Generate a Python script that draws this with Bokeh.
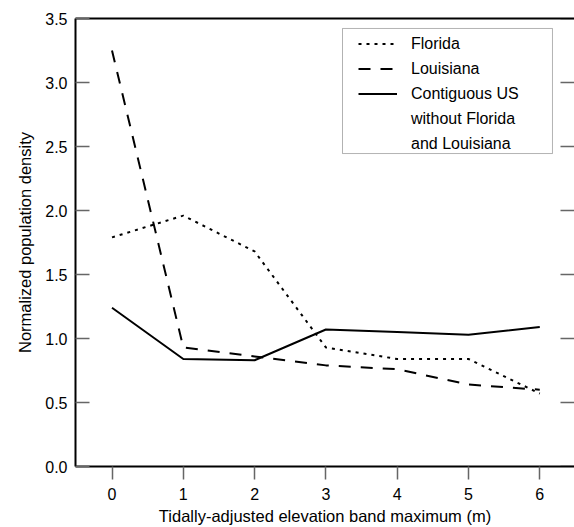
import math
from bokeh.plotting import figure
from bokeh.models import (Range1d, LinearAxis, FixedTicker, Legend, LegendItem,
                          BoxAnnotation, PrintfTickFormatter)
from bokeh.embed import file_html
from bokeh.resources import INLINE

# ---- data ----
elev_band = [0, 1, 2, 3, 4, 5, 6]
florida = [1.79, 1.96, 1.68, 0.93, 0.84, 0.84, 0.57]
louisiana = [3.25, 0.93, 0.86, 0.79, 0.76, 0.64, 0.60]
contiguous = [1.24, 0.84, 0.83, 1.07, 1.05, 1.03, 1.09]
x_ticks = [0, 1, 2, 3, 4, 5, 6]
y_ticks = [0.0, 0.5, 1.0, 1.5, 2.0, 2.5, 3.0, 3.5]
x_label = "Tidally-adjusted elevation band maximum (m)"
y_label = "Normalized population density"
legend_labels = ["Florida", "Louisiana", "Contiguous US", "without Florida", "and Louisiana"]

FONT = "Liberation Sans"
FS = "16px"
FS_LAB = "16.5px"
TICKC = "#666666"

x_start, x_end = -0.512, 6.487

p = figure(width=574, height=527,
           x_range=Range1d(x_start, x_end), y_range=Range1d(0, 3.5),
           output_backend="svg", toolbar_location=None,
           x_axis_location=None, y_axis_location=None,
           min_border_left=75, min_border_top=18, min_border_right=0,
           min_border_bottom=0)
p.outline_line_color = None
p.xgrid.visible = False
p.ygrid.visible = False
p.background_fill_color = "white"
p.border_fill_color = "white"

# bottom axis
xa = LinearAxis(ticker=FixedTicker(ticks=x_ticks), axis_label=x_label)
xa.axis_line_color = "black"
xa.axis_line_width = 2
xa.major_tick_in = 0
xa.major_tick_out = 13
xa.major_tick_line_color = TICKC
xa.major_tick_line_width = 1.5
xa.minor_tick_line_color = None
xa.major_label_standoff = 8
xa.major_label_text_font = FONT
xa.major_label_text_font_size = FS
xa.major_label_text_color = "black"
xa.axis_label_text_font = FONT
xa.axis_label_text_font_size = FS_LAB
xa.axis_label_text_font_style = "normal"
xa.axis_label_text_color = "black"
xa.axis_label_standoff = 4
p.add_layout(xa, "below")

# left axis
ya = LinearAxis(ticker=FixedTicker(ticks=y_ticks), axis_label=y_label,
                formatter=PrintfTickFormatter(format="%.1f"))
ya.axis_line_color = "black"
ya.axis_line_width = 2
ya.major_tick_in = 14
ya.major_tick_out = 0
ya.major_tick_line_color = TICKC
ya.major_tick_line_width = 1.5
ya.minor_tick_line_color = None
ya.major_label_standoff = 8
ya.major_label_text_font = FONT
ya.major_label_text_font_size = FS
ya.major_label_text_color = "black"
ya.axis_label_text_font = FONT
ya.axis_label_text_font_size = FS_LAB
ya.axis_label_text_font_style = "normal"
ya.axis_label_text_color = "black"
ya.axis_label_standoff = 8
p.add_layout(ya, "left")

# top frame line
ta = LinearAxis(ticker=FixedTicker(ticks=[]))
ta.axis_line_color = "black"
ta.axis_line_width = 2
ta.major_tick_line_color = None
ta.minor_tick_line_color = None
ta.major_label_standoff = 0
p.add_layout(ta, "above")

# inward ticks on the right edge of the frame
p.ray(x=[x_end] * len(y_ticks), y=y_ticks, length=14, length_units="screen",
      angle=math.pi, line_color=TICKC, line_width=1.5)

r_fl = p.line(elev_band, florida, line_color="black", line_width=2, line_dash="3 5")
r_la = p.line(elev_band, louisiana, line_color="black", line_width=2, line_dash="12 10")
r_us = p.line(elev_band, contiguous, line_color="black", line_width=2)
r_b1 = p.line([], [], line_alpha=0)
r_b2 = p.line([], [], line_alpha=0)

box = BoxAnnotation(left=3.233, right=6.178, bottom=2.445, top=3.422,
                    fill_color="white", fill_alpha=1.0,
                    line_color="black", line_width=1)
p.add_layout(box)

legend = Legend(items=[
    LegendItem(label=legend_labels[0], renderers=[r_fl]),
    LegendItem(label=legend_labels[1], renderers=[r_la]),
    LegendItem(label=legend_labels[2], renderers=[r_us]),
    LegendItem(label=legend_labels[3], renderers=[r_b1]),
    LegendItem(label=legend_labels[4], renderers=[r_b2]),
], location=(283, 310))
legend.padding = 0
legend.spacing = 0
legend.margin = 0
legend.glyph_width = 39
legend.glyph_height = 25
legend.label_height = 25
legend.label_standoff = 14
legend.label_text_font = FONT
legend.label_text_font_size = FS
legend.label_text_color = "black"
legend.border_line_color = None
legend.background_fill_alpha = 0
p.add_layout(legend)

open("out.html", "w").write(file_html(p, INLINE))
